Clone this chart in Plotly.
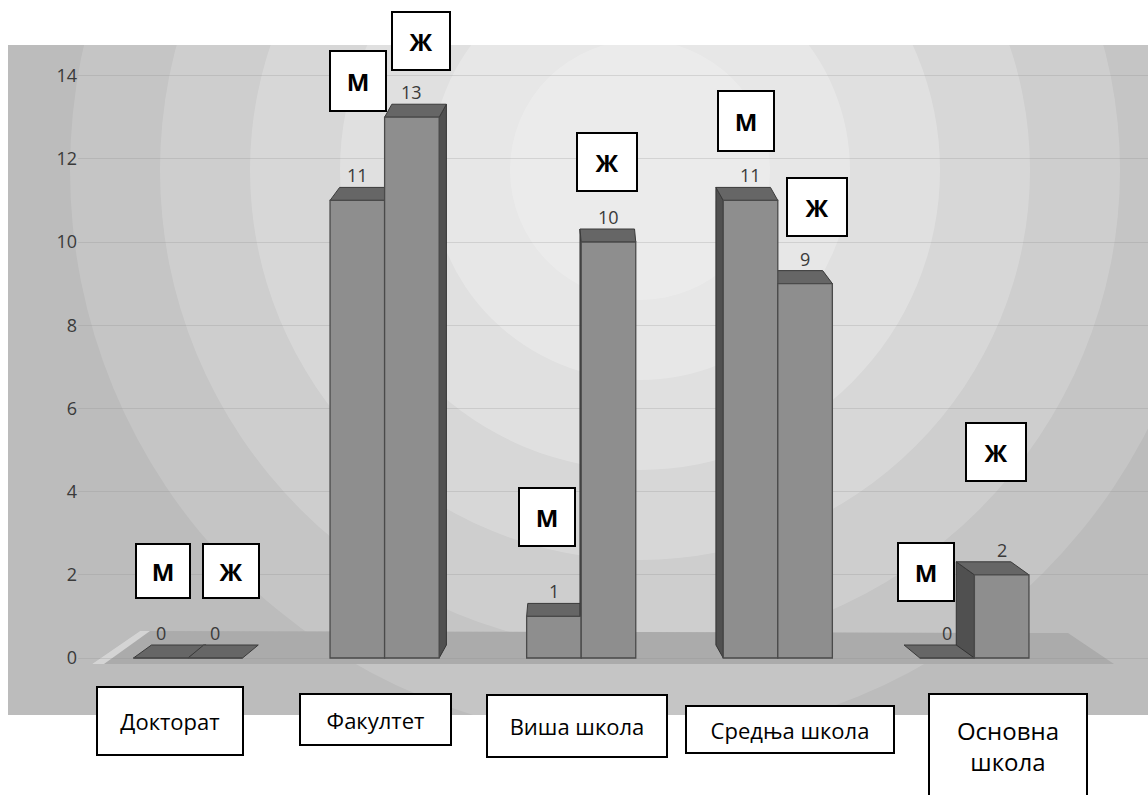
import plotly.graph_objects as go

# ---------------- data ----------------
categories = ["Докторат", "Факултет", "Виша школа", "Средња школа", "Основна школа"]
series_names = ["М", "Ж"]
male = [0, 11, 1, 11, 0]
female = [0, 13, 10, 9, 2]
y_ticks = [0, 2, 4, 6, 8, 10, 12, 14]

# ---------------- layout geometry ----------------
FIG_W, FIG_H = 1148, 795
L, R, T, B = 78, 1148, 45, 715          # plot area in pixels
X_RANGE = [-0.5595, 4.883]
Y_RANGE = [-1.370, 14.736]
BARGAP = 0.445
BW = (1 - BARGAP) / 2                   # single bar width in category units
FONT = "Open Sans"


def x2px(xd):
    return L + (xd - X_RANGE[0]) * (R - L) / (X_RANGE[1] - X_RANGE[0])


def px2paper_x(px):
    return (px - L) / (R - L)


def py2paper(py):
    return (B - py) / (B - T)


PX_PER_X = (R - L) / (X_RANGE[1] - X_RANGE[0])
PX_PER_Y = (B - T) / (Y_RANGE[1] - Y_RANGE[0])

fig = go.Figure()

bar_fill = "#8e8e8e"
bar_line = "#4a4a4a"
series = [male, female]
for s, vals in enumerate(series):
    fig.add_trace(go.Bar(
        x=list(range(len(categories))), y=vals, name=series_names[s],
        marker=dict(color=bar_fill, line=dict(color=bar_line, width=1.3)),
        showlegend=False, hoverinfo="x+y",
    ))

shapes = []


def prect(x0, x1, y0, y1, color):
    shapes.append(dict(type="rect", xref="paper", yref="paper", layer="below",
                       x0=px2paper_x(x0), x1=px2paper_x(x1), y0=py2paper(y1), y1=py2paper(y0),
                       fillcolor=color, line=dict(width=0)))


# panel background
prect(8, 1148, 45, 715, "#bcbcbc")
# radial glow made of concentric circles
glow_cx, glow_cy = 640, 170
for r, op in [(570, 0.14), (480, 0.17), (390, 0.2), (300, 0.24), (210, 0.24), (130, 0.2)]:
    shapes.append(dict(type="circle", xref="paper", yref="paper", layer="below",
                       x0=px2paper_x(glow_cx - r), x1=px2paper_x(glow_cx + r),
                       y0=py2paper(glow_cy + r), y1=py2paper(glow_cy - r),
                       fillcolor="rgba(255,255,255,%.2f)" % op, line=dict(width=0)))
# white outside the panel
prect(0, 1148, 0, 45, "white")
prect(0, 1148, 715, 795, "white")
prect(0, 8, 0, 795, "white")
# floor plane
floor_pts = [(92, 664), (140, 631), (1068, 633), (1114, 664)]
path = "M " + " L ".join("%f,%f" % (px2paper_x(a), py2paper(b)) for a, b in floor_pts) + " Z"
shapes.append(dict(type="path", xref="paper", yref="paper", layer="below", path=path,
                   fillcolor="#ababab", line=dict(width=0)))
# lit left edge of the floor
edge_pts = [(92, 664), (140, 631), (150, 631), (104, 664)]
path = "M " + " L ".join("%f,%f" % (px2paper_x(a), py2paper(b)) for a, b in edge_pts) + " Z"
shapes.append(dict(type="path", xref="paper", yref="paper", layer="below", path=path,
                   fillcolor="#d4d4d4", line=dict(width=0)))

# 3D faces (top + side) computed from bar values
DY = 13 / PX_PER_Y
for s, vals in enumerate(series):
    off = (-0.5 + s) * BW
    for i, v in enumerate(vals):
        c = i + off
        x0, x1 = c - BW / 2, c + BW / 2
        dxp = 0.043 * (580 - x2px(c))
        dx = dxp / PX_PER_X
        if v > 0:
            xs = x1 if dx > 0 else x0
            shapes.append(dict(type="path", xref="x", yref="y", layer="between",
                               path="M %f,%f L %f,%f L %f,%f L %f,%f Z" % (
                                   xs, 0, xs, v, xs + dx, v + DY, xs + dx, DY),
                               fillcolor="#505050", line=dict(color="#333", width=1)))
        shapes.append(dict(type="path", xref="x", yref="y", layer="between",
                           path="M %f,%f L %f,%f L %f,%f L %f,%f Z" % (
                               x0, v, x1, v, x1 + dx, v + DY, x0 + dx, v + DY),
                           fillcolor="#666666", line=dict(color="#3a3a3a", width=1)))

annotations = []
# value labels above bars
for s, vals in enumerate(series):
    off = (-0.5 + s) * BW
    for i, v in enumerate(vals):
        annotations.append(dict(x=i + off, y=v, xref="x", yref="y", text=str(v),
                                showarrow=False, yshift=25, xanchor="center", yanchor="middle",
                                font=dict(family=FONT, size=18, color="#3a3a3a")))

# series letter boxes (center px, width, height) per category, per series
letter_boxes = [
    [(163, 571, 56, 56), (231, 571, 58, 56)],
    [(358, 81, 58, 62), (421, 41, 60, 60)],
    [(547, 517, 58, 60), (607, 162, 62, 60)],
    [(746, 121, 58, 62), (817, 207, 62, 60)],
    [(926, 572, 58, 60), (996, 452, 62, 60)],
]
for i, pair in enumerate(letter_boxes):
    for s, (cx, cy, w, h) in enumerate(pair):
        annotations.append(dict(x=px2paper_x(cx), y=py2paper(cy), xref="paper", yref="paper",
                                xanchor="center", yanchor="middle",
                                text="<b>%s</b>" % series_names[s], showarrow=False,
                                width=w - 4, height=h - 4, borderpad=0,
                                bgcolor="white", bordercolor="black", borderwidth=2,
                                font=dict(family=FONT, size=24, color="black")))

# category label boxes
cat_boxes = [(170, 721, 148, 70), (375, 719, 153, 53), (577, 726, 182, 64),
             (790, 729, 210, 49), (1008, 746, 160, 106)]
for i, (cx, cy, w, h) in enumerate(cat_boxes):
    txt = categories[i]
    if i == len(categories) - 1:
        txt = txt.replace(" ", "<br>")
    annotations.append(dict(x=px2paper_x(cx), y=py2paper(cy), xref="paper", yref="paper",
                            xanchor="center", yanchor="middle",
                            text=txt, showarrow=False, width=w - 4, height=h - 4, borderpad=0,
                            bgcolor="white", bordercolor="black", borderwidth=2,
                            font=dict(family=FONT, size=22 if i < 4 else 24, color="black")))

fig.update_layout(
    width=FIG_W, height=FIG_H,
    margin=dict(l=L, r=FIG_W - R, t=T, b=FIG_H - B),
    paper_bgcolor="white", plot_bgcolor="rgba(0,0,0,0)",
    barmode="group", bargap=BARGAP, bargroupgap=0,
    shapes=shapes, annotations=annotations,
    xaxis=dict(range=X_RANGE, showticklabels=False, showgrid=False, zeroline=False,
               showline=False, ticks=""),
    yaxis=dict(range=Y_RANGE, tickvals=y_ticks, ticktext=[str(t) for t in y_ticks],
               showgrid=True, gridcolor="rgba(140,140,140,0.25)", gridwidth=1,
               zeroline=False, showline=False, ticks="",
               tickfont=dict(family=FONT, size=18, color="#3a3a3a")),
    showlegend=False,
)

fig.write_html("out.html")
